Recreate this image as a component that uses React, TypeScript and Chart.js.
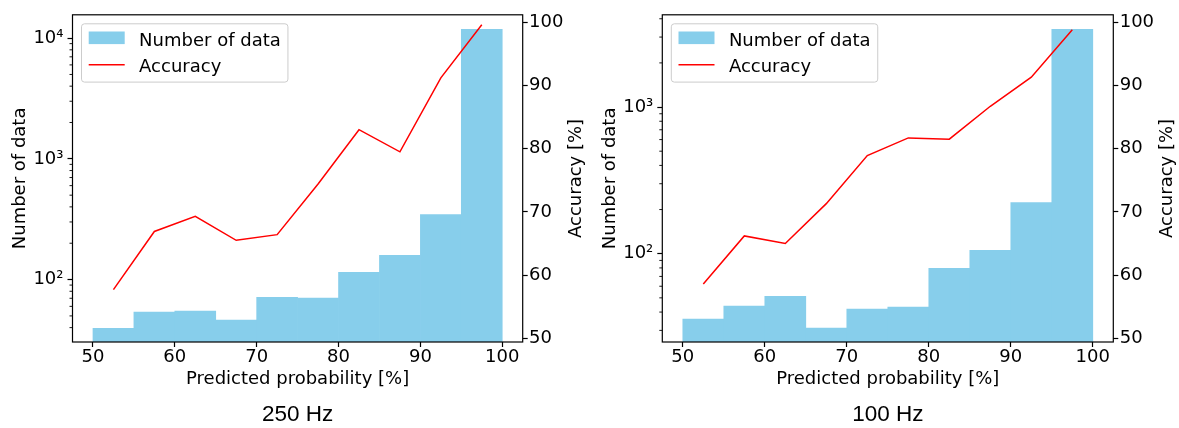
import React, { useEffect, useRef } from "react";
import { Chart, registerables } from "chart.js";

Chart.register(...registerables);

// ---------------- data ----------------
const binCenters = [52.5, 57.5, 62.5, 67.5, 72.5, 77.5, 82.5, 87.5, 92.5, 97.5];
const xTickValues = [50, 60, 70, 80, 90, 100];
const accuracyTickValues = [50, 60, 70, 80, 90, 100];
const countMajorTickValues = [100, 1000, 10000];
const countMajorTickLabels = ["10²", "10³", "10⁴"];
const countMinorTickValues = [
  20, 30, 40, 50, 60, 70, 80, 90,
  200, 300, 400, 500, 600, 700, 800, 900,
  2000, 3000, 4000, 5000, 6000, 7000, 8000, 9000,
];

const counts250Hz = [39.5, 53.8, 54.8, 46.1, 71.4, 70.2, 114.9, 158.6, 345, 11800];
const accuracy250Hz = [57.7, 66.9, 69.3, 65.5, 66.4, 74.4, 83.0, 79.5, 91.2, 99.6];
const counts100Hz = [35.8, 43.9, 51.3, 31.1, 41.9, 43.2, 79.4, 105.3, 223, 3390];
const accuracy100Hz = [58.6, 66.2, 65.0, 71.3, 78.9, 81.7, 81.5, 86.7, 91.3, 98.8];

const panelTitles = ["250 Hz", "100 Hz"];
const seriesLabels = ["Number of data", "Accuracy"];
const xAxisTitle = "Predicted probability [%]";
const countAxisTitle = "Number of data";
const accuracyAxisTitle = "Accuracy [%]";

// ---------------- style ----------------
const FONT = '"DejaVu Sans", sans-serif';
const TITLE_FONT = '"Liberation Sans", Arial, sans-serif';
const BAR_COLOR = "#87ceeb";
const LINE_COLOR = "#ff0000";

type PanelProps = {
  counts: number[];
  accuracy: number[];
  title: string;
  countMin: number;
  countMax: number;
  canvasWidth: number;
  leftAxisWidth: number;
  rightAxisWidth: number;
  left: number;
};

function Panel(p: PanelProps) {
  const ref = useRef<HTMLCanvasElement | null>(null);

  useEffect(() => {
    const canvas = ref.current;
    if (!canvas) return;

    const decor = {
      id: "mplDecor",
      afterDraw(chart: any) {
        const { ctx, chartArea: ca, scales } = chart;
        ctx.save();
        // minor ticks on log axis
        ctx.strokeStyle = "#000";
        ctx.lineWidth = 0.9;
        const ys = scales.y;
        for (const v of countMinorTickValues) {
          if (v <= ys.min || v >= ys.max) continue;
          const py = ys.getPixelForValue(v);
          ctx.beginPath();
          ctx.moveTo(ca.left - 3, py);
          ctx.lineTo(ca.left, py);
          ctx.stroke();
        }
        // spines
        ctx.lineWidth = 1.2;
        ctx.strokeRect(ca.left, ca.top, ca.right - ca.left, ca.bottom - ca.top);
        ctx.restore();

        // right axis title (reads bottom-to-top)
        ctx.save();
        ctx.fillStyle = "#000";
        ctx.font = `18px ${FONT}`;
        ctx.translate(ca.right + 54, (ca.top + ca.bottom) / 2);
        ctx.rotate(-Math.PI / 2);
        ctx.textAlign = "center";
        ctx.textBaseline = "middle";
        ctx.fillText(accuracyAxisTitle, 0, 0);
        ctx.restore();

        // legend (matplotlib style)
        ctx.save();
        const em = 18;
        ctx.font = `18px ${FONT}`;
        const labels = chart.data.datasets.map((d: any) => d.label as string);
        const textW = Math.max(...labels.map((l: string) => ctx.measureText(l).width));
        const bx = ca.left + 0.5 * em;
        const by = ca.top + 0.5 * em;
        const bw = 0.8 * em + 2 * em + 0.8 * em + textW;
        const bh = 58.3;
        ctx.beginPath();
        (ctx as any).roundRect(bx, by, bw, bh, 3);
        ctx.fillStyle = "rgba(255,255,255,0.8)";
        ctx.fill();
        ctx.strokeStyle = "#cccccc";
        ctx.lineWidth = 1;
        ctx.stroke();
        const hx = bx + 0.4 * em;
        const hw = 2 * em;
        // patch
        ctx.fillStyle = chart.data.datasets[0].backgroundColor;
        ctx.fillRect(hx, by + 7.7, hw, 12.6);
        // line
        ctx.strokeStyle = chart.data.datasets[1].borderColor;
        ctx.lineWidth = 1.5;
        ctx.beginPath();
        ctx.moveTo(hx, by + 41);
        ctx.lineTo(hx + hw, by + 41);
        ctx.stroke();
        ctx.fillStyle = "#000";
        ctx.textAlign = "left";
        ctx.textBaseline = "alphabetic";
        const tx = hx + hw + 0.8 * em;
        ctx.fillText(labels[0], tx, by + 21.7);
        ctx.fillText(labels[1], tx, by + 48.4);
        ctx.restore();
      },
    };

    const tickFont = { family: FONT, size: 18 };
    const tickGrid = {
      display: true,
      drawOnChartArea: false,
      drawTicks: true,
      tickLength: 5,
      tickColor: "#000",
      tickWidth: 1.2,
      offset: false,
    };

    const chart = new Chart(canvas, {
      type: "bar",
      data: {
        datasets: [
          {
            type: "bar",
            label: seriesLabels[0],
            data: binCenters.map((x, i) => ({ x, y: p.counts[i] })),
            backgroundColor: BAR_COLOR,
            borderWidth: 0,
            barPercentage: 1,
            categoryPercentage: 1,
            xAxisID: "x",
            yAxisID: "y",
            order: 2,
          } as any,
          {
            type: "line",
            label: seriesLabels[1],
            data: binCenters.map((x, i) => ({ x, y: p.accuracy[i] })),
            borderColor: LINE_COLOR,
            backgroundColor: LINE_COLOR,
            borderWidth: 1.5,
            pointRadius: 0,
            fill: false,
            tension: 0,
            xAxisID: "x",
            yAxisID: "y1",
            order: 1,
          } as any,
        ],
      },
      options: {
        responsive: false,
        animation: false,
        devicePixelRatio: 1,
        layout: { padding: { top: 13.3, left: 0, right: 0, bottom: 0 } },
        plugins: {
          legend: { display: false },
          tooltip: { enabled: false },
          title: {
            display: true,
            text: p.title,
            position: "bottom",
            fullSize: false,
            color: "#000",
            font: { family: TITLE_FONT, size: 22.5, weight: "normal", lineHeight: 1.2 },
            padding: { top: 0, bottom: 0 },
          },
        },
        scales: {
          x: {
            type: "linear",
            min: 47.5,
            max: 102.5,
            offset: false,
            bounds: "data",
            grid: tickGrid,
            border: { display: false },
            ticks: { padding: 0, color: "#000", font: tickFont, maxRotation: 0, autoSkip: false },
            afterBuildTicks: (s: any) => {
              s.ticks = xTickValues.map((v) => ({ value: v }));
            },
            afterFit: (s: any) => {
              s.height = 59;
            },
            title: {
              display: true,
              text: xAxisTitle,
              color: "#000",
              font: { family: FONT, size: 18 },
              padding: { top: 0, bottom: 10.4 },
            },
          },
          y: {
            type: "logarithmic",
            position: "left",
            min: p.countMin,
            max: p.countMax,
            bounds: "data",
            grid: tickGrid,
            border: { display: false },
            ticks: {
              padding: 4,
              color: "#000",
              font: tickFont,
              autoSkip: false,
              callback: (v: any) => {
                const i = countMajorTickValues.indexOf(Number(v));
                return i >= 0 ? countMajorTickLabels[i] : "";
              },
            },
            afterBuildTicks: (s: any) => {
              s.ticks = countMajorTickValues
                .filter((v) => v >= s.min && v <= s.max)
                .map((v) => ({ value: v, major: true }));
            },
            afterFit: (s: any) => {
              s.width = p.leftAxisWidth;
            },
            title: {
              display: true,
              text: countAxisTitle,
              color: "#000",
              font: { family: FONT, size: 18 },
              padding: { top: 9.7, bottom: 0 },
            },
          },
          y1: {
            type: "linear",
            position: "right",
            min: 49.42,
            max: 101.17,
            bounds: "data",
            grid: tickGrid,
            border: { display: false },
            ticks: { padding: 1.4, color: "#000", font: tickFont, autoSkip: false },
            afterBuildTicks: (s: any) => {
              s.ticks = accuracyTickValues.map((v) => ({ value: v }));
            },
            afterFit: (s: any) => {
              s.width = p.rightAxisWidth;
            },
          },
        },
      } as any,
      plugins: [decor],
    });

    return () => chart.destroy();
  }, []);

  return (
    <canvas
      ref={ref}
      width={p.canvasWidth}
      height={428}
      style={{ position: "absolute", left: p.left, top: 0, width: p.canvasWidth, height: 428 }}
    />
  );
}

export default function App() {
  return (
    <div
      style={{
        position: "absolute",
        left: 0,
        top: 0,
        width: 1179,
        height: 428,
        background: "#ffffff",
        overflow: "hidden",
      }}
    >
      <Panel
        counts={counts250Hz}
        accuracy={accuracy250Hz}
        title={panelTitles[0]}
        countMin={30.4}
        countMax={15600}
        canvasWidth={590}
        leftAxisWidth={72.5}
        rightAxisWidth={67.3}
        left={0}
      />
      <Panel
        counts={counts100Hz}
        accuracy={accuracy100Hz}
        title={panelTitles[1]}
        countMin={25.0}
        countMax={4256}
        canvasWidth={589}
        leftAxisWidth={72.3}
        rightAxisWidth={65.7}
        left={590}
      />
    </div>
  );
}
